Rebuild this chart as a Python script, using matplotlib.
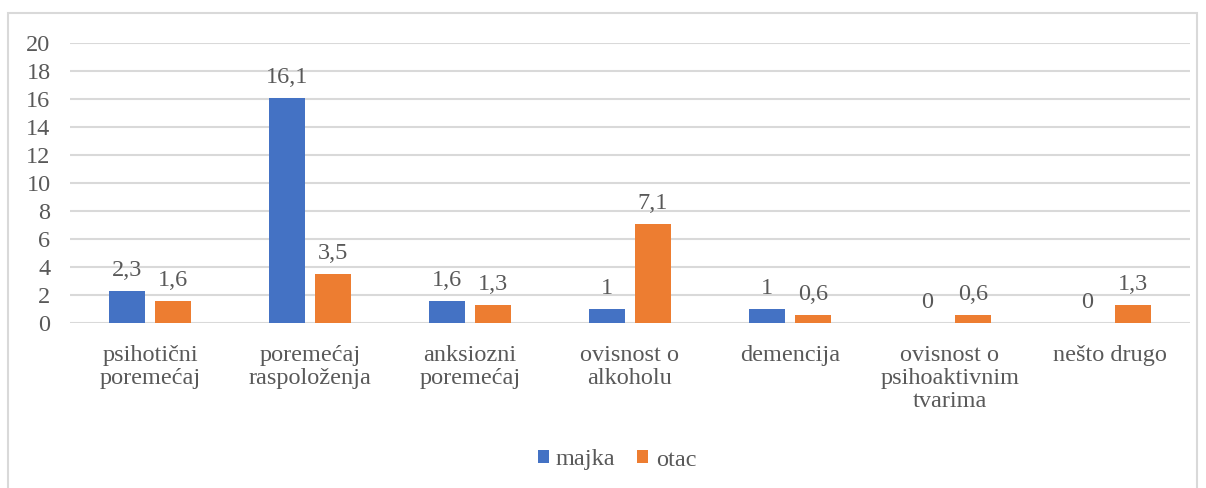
import matplotlib
matplotlib.use("Agg")
import matplotlib.pyplot as plt
from matplotlib.patches import Rectangle
import numpy as np

categories = ["psihotični\nporemećaj", "poremećaj\nraspoloženja", "anksiozni\nporemećaj",
              "ovisnost o\nalkoholu", "demencija", "ovisnost o\npsihoaktivnim\ntvarima", "nešto drugo"]
majka = [2.3, 16.1, 1.6, 1.0, 1.0, 0.0, 0.0]
otac = [1.6, 3.5, 1.3, 7.1, 0.6, 0.6, 1.3]
yticks = [0, 2, 4, 6, 8, 10, 12, 14, 16, 18, 20]

BLUE = "#4472C4"
ORANGE = "#ED7D31"
TXT = "#595959"
GRID = "#D9D9D9"
FS = 17.5

plt.rcParams['font.family'] = ['Liberation Serif', 'DejaVu Serif']

W, H = 1206, 488
fig = plt.figure(figsize=(W/100, H/100), dpi=100)
fig.patches.append(Rectangle((8/W, -0.05), (1197-8)/W, (H-13)/H + 0.05, transform=fig.transFigure,
                             fill=False, edgecolor=GRID, linewidth=1.5))

ax = fig.add_axes([70/W, 1-323/H, (1190-70)/W, (323-43)/H])
x = np.arange(len(categories))
bw = 36/160
off = 23/160
b1 = ax.bar(x - off, majka, bw, color=BLUE, label="majka", zorder=3)
b2 = ax.bar(x + off, otac, bw, color=ORANGE, label="otac", zorder=3)

def fmt(v):
    s = ("%.1f" % v).rstrip("0").rstrip(".")
    return s.replace(".", ",")

for bars, vals in ((b1, majka), (b2, otac)):
    for r, v in zip(bars, vals):
        ax.annotate(fmt(v), (r.get_x() + r.get_width()/2, v), xytext=(0, 7),
                    textcoords="offset points", ha="center", va="bottom",
                    fontsize=FS, color=TXT)

ax.set_xlim(-0.5, len(categories) - 0.5)
ax.set_ylim(0, 20)
ax.set_yticks(yticks)
ax.set_yticklabels([str(t) for t in yticks], fontsize=FS, color=TXT)
ax.set_xticks(x)
ax.set_xticklabels(categories, fontsize=FS, color=TXT, linespacing=1.12, va="top")
ax.tick_params(axis="both", length=0)
ax.tick_params(axis="x", pad=16)
ax.tick_params(axis="y", pad=14)
ax.grid(axis="y", color=GRID, linewidth=1.5, zorder=0)
for s in ax.spines.values():
    s.set_visible(False)

leg = fig.legend(loc="center", bbox_to_anchor=(617/W, 1-460/H), ncol=2, frameon=False,
                 fontsize=FS, handlelength=0.45, handleheight=0.45, handletextpad=0.3,
                 columnspacing=0.9)
for t in leg.get_texts():
    t.set_color(TXT)

fig.savefig("out.png", dpi=100)
